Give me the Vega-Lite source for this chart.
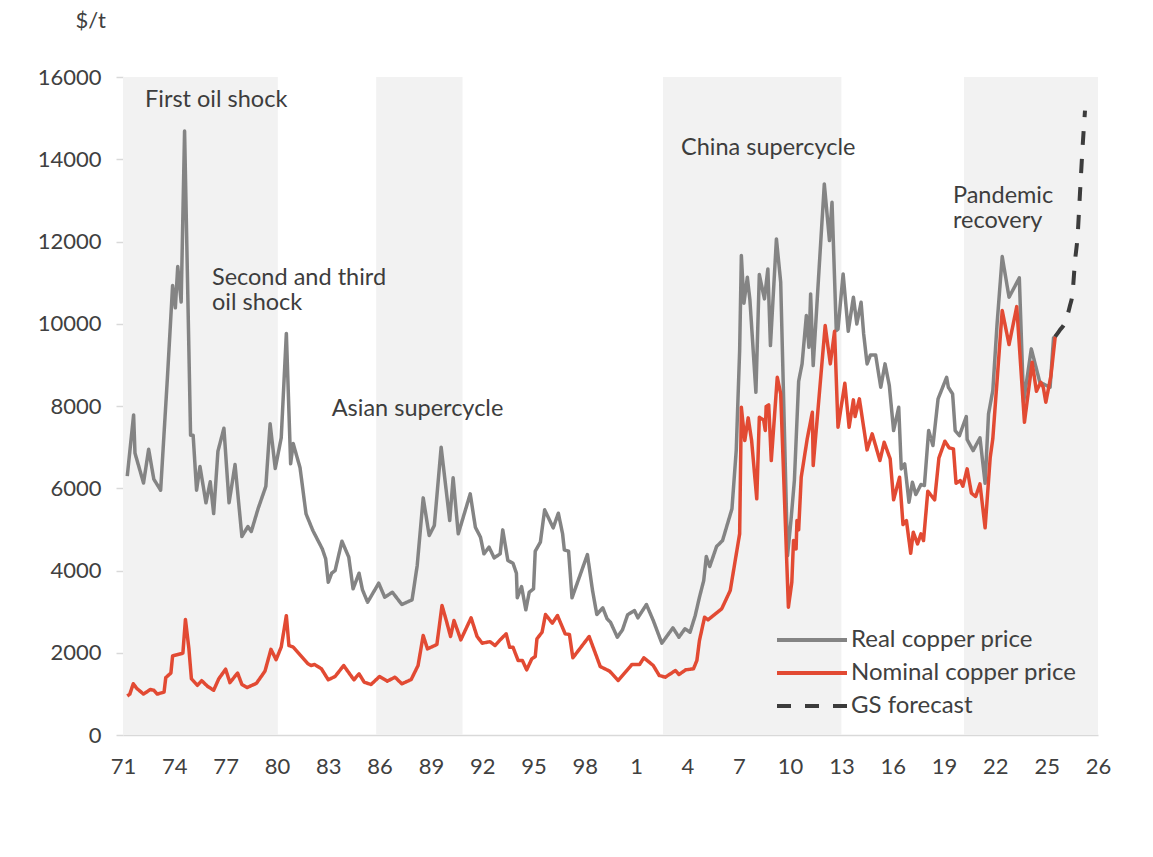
{
  "$schema": "https://vega.github.io/schema/vega-lite/v6.json",
  "width": 975,
  "height": 658,
  "autosize": {"type": "none"},
  "padding": {"left": 123, "top": 77, "right": 55, "bottom": 122},
  "background": "white",
  "config": {
    "view": {"stroke": null},
    "font": "Lato",
    "text": {"font": "Lato"}
  },
  "datasets": {
    "shade": [
      {"start": 1971, "end": 1980.05},
      {"start": 1985.8, "end": 1990.85},
      {"start": 2002.57, "end": 2013.0},
      {"start": 2020.17, "end": 2028}
    ],
    "notes": [
      {"t": 1972.29, "v": 15450, "label": "First oil shock"},
      {"t": 1976.2, "v": 11110, "label": "Second and third\noil shock"},
      {"t": 1983.2, "v": 7937, "label": "Asian supercycle"},
      {"t": 2003.62, "v": 14280, "label": "China supercycle"},
      {"t": 2019.52, "v": 13100, "label": "Pandemic\nrecovery"}
    ],
    "forecast": [
      {"t": 2025.5, "v": 9688, "s": "GS forecast"},
      {"t": 2025.75, "v": 9834, "s": "GS forecast"},
      {"t": 2026.07, "v": 10030, "s": "GS forecast"},
      {"t": 2026.36, "v": 10440, "s": "GS forecast"},
      {"t": 2026.5, "v": 10700, "s": "GS forecast"},
      {"t": 2026.66, "v": 11540, "s": "GS forecast"},
      {"t": 2026.8, "v": 12100, "s": "GS forecast"},
      {"t": 2026.95, "v": 13200, "s": "GS forecast"},
      {"t": 2027.1, "v": 14300, "s": "GS forecast"},
      {"t": 2027.24, "v": 15180, "s": "GS forecast"}
    ],
    "prices": [
      {"t": 1971.25, "v": 6296, "s": "Real copper price"},
      {"t": 1971.62, "v": 7784, "s": "Real copper price"},
      {"t": 1971.7, "v": 6854, "s": "Real copper price"},
      {"t": 1972.2, "v": 6129, "s": "Real copper price"},
      {"t": 1972.5, "v": 6947, "s": "Real copper price"},
      {"t": 1972.8, "v": 6222, "s": "Real copper price"},
      {"t": 1973.2, "v": 5952, "s": "Real copper price"},
      {"t": 1973.6, "v": 8714, "s": "Real copper price"},
      {"t": 1973.9, "v": 10928, "s": "Real copper price"},
      {"t": 1974.06, "v": 10388, "s": "Real copper price"},
      {"t": 1974.2, "v": 11392, "s": "Real copper price"},
      {"t": 1974.4, "v": 10528, "s": "Real copper price"},
      {"t": 1974.6, "v": 14685, "s": "Real copper price"},
      {"t": 1974.95, "v": 7291, "s": "Real copper price"},
      {"t": 1975.1, "v": 7291, "s": "Real copper price"},
      {"t": 1975.3, "v": 5952, "s": "Real copper price"},
      {"t": 1975.5, "v": 6529, "s": "Real copper price"},
      {"t": 1975.85, "v": 5645, "s": "Real copper price"},
      {"t": 1976.1, "v": 6157, "s": "Real copper price"},
      {"t": 1976.3, "v": 5385, "s": "Real copper price"},
      {"t": 1976.55, "v": 6901, "s": "Real copper price"},
      {"t": 1976.9, "v": 7459, "s": "Real copper price"},
      {"t": 1977.2, "v": 5645, "s": "Real copper price"},
      {"t": 1977.55, "v": 6575, "s": "Real copper price"},
      {"t": 1977.95, "v": 4827, "s": "Real copper price"},
      {"t": 1978.3, "v": 5069, "s": "Real copper price"},
      {"t": 1978.5, "v": 4948, "s": "Real copper price"},
      {"t": 1978.9, "v": 5506, "s": "Real copper price"},
      {"t": 1979.35, "v": 6045, "s": "Real copper price"},
      {"t": 1979.6, "v": 7570, "s": "Real copper price"},
      {"t": 1979.9, "v": 6482, "s": "Real copper price"},
      {"t": 1980.25, "v": 7226, "s": "Real copper price"},
      {"t": 1980.55, "v": 9765, "s": "Real copper price"},
      {"t": 1980.8, "v": 6594, "s": "Real copper price"},
      {"t": 1980.95, "v": 7087, "s": "Real copper price"},
      {"t": 1981.35, "v": 6500, "s": "Real copper price"},
      {"t": 1981.7, "v": 5377, "s": "Real copper price"},
      {"t": 1982.1, "v": 4971, "s": "Real copper price"},
      {"t": 1982.65, "v": 4526, "s": "Real copper price"},
      {"t": 1982.85, "v": 4283, "s": "Real copper price"},
      {"t": 1983.0, "v": 3715, "s": "Real copper price"},
      {"t": 1983.2, "v": 3934, "s": "Real copper price"},
      {"t": 1983.4, "v": 3999, "s": "Real copper price"},
      {"t": 1983.8, "v": 4712, "s": "Real copper price"},
      {"t": 1984.2, "v": 4323, "s": "Real copper price"},
      {"t": 1984.45, "v": 3554, "s": "Real copper price"},
      {"t": 1984.8, "v": 3934, "s": "Real copper price"},
      {"t": 1985.0, "v": 3530, "s": "Real copper price"},
      {"t": 1985.3, "v": 3229, "s": "Real copper price"},
      {"t": 1985.95, "v": 3691, "s": "Real copper price"},
      {"t": 1986.3, "v": 3350, "s": "Real copper price"},
      {"t": 1986.75, "v": 3472, "s": "Real copper price"},
      {"t": 1987.3, "v": 3173, "s": "Real copper price"},
      {"t": 1987.9, "v": 3287, "s": "Real copper price"},
      {"t": 1988.2, "v": 4121, "s": "Real copper price"},
      {"t": 1988.55, "v": 5766, "s": "Real copper price"},
      {"t": 1988.9, "v": 4850, "s": "Real copper price"},
      {"t": 1989.2, "v": 5093, "s": "Real copper price"},
      {"t": 1989.6, "v": 6997, "s": "Real copper price"},
      {"t": 1990.1, "v": 5215, "s": "Real copper price"},
      {"t": 1990.3, "v": 6253, "s": "Real copper price"},
      {"t": 1990.6, "v": 4891, "s": "Real copper price"},
      {"t": 1991.3, "v": 5864, "s": "Real copper price"},
      {"t": 1991.6, "v": 5052, "s": "Real copper price"},
      {"t": 1991.9, "v": 4809, "s": "Real copper price"},
      {"t": 1992.1, "v": 4405, "s": "Real copper price"},
      {"t": 1992.4, "v": 4567, "s": "Real copper price"},
      {"t": 1992.7, "v": 4307, "s": "Real copper price"},
      {"t": 1993.05, "v": 4405, "s": "Real copper price"},
      {"t": 1993.2, "v": 4988, "s": "Real copper price"},
      {"t": 1993.5, "v": 4242, "s": "Real copper price"},
      {"t": 1993.8, "v": 4177, "s": "Real copper price"},
      {"t": 1994.0, "v": 3934, "s": "Real copper price"},
      {"t": 1994.05, "v": 3336, "s": "Real copper price"},
      {"t": 1994.3, "v": 3610, "s": "Real copper price"},
      {"t": 1994.55, "v": 3044, "s": "Real copper price"},
      {"t": 1994.75, "v": 3472, "s": "Real copper price"},
      {"t": 1995.0, "v": 3554, "s": "Real copper price"},
      {"t": 1995.1, "v": 4469, "s": "Real copper price"},
      {"t": 1995.4, "v": 4688, "s": "Real copper price"},
      {"t": 1995.65, "v": 5475, "s": "Real copper price"},
      {"t": 1996.15, "v": 5037, "s": "Real copper price"},
      {"t": 1996.45, "v": 5393, "s": "Real copper price"},
      {"t": 1996.7, "v": 4891, "s": "Real copper price"},
      {"t": 1996.8, "v": 4502, "s": "Real copper price"},
      {"t": 1997.05, "v": 4469, "s": "Real copper price"},
      {"t": 1997.25, "v": 3336, "s": "Real copper price"},
      {"t": 1998.15, "v": 4388, "s": "Real copper price"},
      {"t": 1998.45, "v": 3513, "s": "Real copper price"},
      {"t": 1998.7, "v": 2930, "s": "Real copper price"},
      {"t": 1999.05, "v": 3092, "s": "Real copper price"},
      {"t": 1999.3, "v": 2825, "s": "Real copper price"},
      {"t": 1999.5, "v": 2742, "s": "Real copper price"},
      {"t": 1999.9, "v": 2378, "s": "Real copper price"},
      {"t": 2000.2, "v": 2557, "s": "Real copper price"},
      {"t": 2000.5, "v": 2922, "s": "Real copper price"},
      {"t": 2000.9, "v": 3027, "s": "Real copper price"},
      {"t": 2001.1, "v": 2849, "s": "Real copper price"},
      {"t": 2001.6, "v": 3173, "s": "Real copper price"},
      {"t": 2002.0, "v": 2784, "s": "Real copper price"},
      {"t": 2002.5, "v": 2232, "s": "Real copper price"},
      {"t": 2003.15, "v": 2606, "s": "Real copper price"},
      {"t": 2003.5, "v": 2378, "s": "Real copper price"},
      {"t": 2003.85, "v": 2582, "s": "Real copper price"},
      {"t": 2004.15, "v": 2500, "s": "Real copper price"},
      {"t": 2004.45, "v": 2900, "s": "Real copper price"},
      {"t": 2004.7, "v": 3350, "s": "Real copper price"},
      {"t": 2004.95, "v": 3756, "s": "Real copper price"},
      {"t": 2005.1, "v": 4339, "s": "Real copper price"},
      {"t": 2005.3, "v": 4096, "s": "Real copper price"},
      {"t": 2005.7, "v": 4582, "s": "Real copper price"},
      {"t": 2006.05, "v": 4728, "s": "Real copper price"},
      {"t": 2006.6, "v": 5499, "s": "Real copper price"},
      {"t": 2006.85, "v": 6916, "s": "Real copper price"},
      {"t": 2007.05, "v": 9347, "s": "Real copper price"},
      {"t": 2007.15, "v": 11657, "s": "Real copper price"},
      {"t": 2007.3, "v": 10498, "s": "Real copper price"},
      {"t": 2007.5, "v": 11130, "s": "Real copper price"},
      {"t": 2007.65, "v": 10580, "s": "Real copper price"},
      {"t": 2008.0, "v": 8334, "s": "Real copper price"},
      {"t": 2008.2, "v": 11195, "s": "Real copper price"},
      {"t": 2008.5, "v": 10604, "s": "Real copper price"},
      {"t": 2008.7, "v": 11333, "s": "Real copper price"},
      {"t": 2008.85, "v": 9469, "s": "Real copper price"},
      {"t": 2009.2, "v": 12063, "s": "Real copper price"},
      {"t": 2009.45, "v": 11008, "s": "Real copper price"},
      {"t": 2009.85, "v": 4364, "s": "Real copper price"},
      {"t": 2010.05, "v": 5215, "s": "Real copper price"},
      {"t": 2010.25, "v": 6187, "s": "Real copper price"},
      {"t": 2010.5, "v": 8601, "s": "Real copper price"},
      {"t": 2010.7, "v": 9024, "s": "Real copper price"},
      {"t": 2010.95, "v": 10198, "s": "Real copper price"},
      {"t": 2011.1, "v": 9428, "s": "Real copper price"},
      {"t": 2011.2, "v": 10726, "s": "Real copper price"},
      {"t": 2011.35, "v": 8983, "s": "Real copper price"},
      {"t": 2011.7, "v": 11373, "s": "Real copper price"},
      {"t": 2012.0, "v": 13400, "s": "Real copper price"},
      {"t": 2012.3, "v": 12022, "s": "Real copper price"},
      {"t": 2012.45, "v": 12953, "s": "Real copper price"},
      {"t": 2012.7, "v": 9834, "s": "Real copper price"},
      {"t": 2012.8, "v": 9870, "s": "Real copper price"},
      {"t": 2013.1, "v": 11212, "s": "Real copper price"},
      {"t": 2013.4, "v": 9817, "s": "Real copper price"},
      {"t": 2013.7, "v": 10644, "s": "Real copper price"},
      {"t": 2013.9, "v": 9996, "s": "Real copper price"},
      {"t": 2014.15, "v": 10522, "s": "Real copper price"},
      {"t": 2014.3, "v": 9753, "s": "Real copper price"},
      {"t": 2014.5, "v": 9024, "s": "Real copper price"},
      {"t": 2014.7, "v": 9243, "s": "Real copper price"},
      {"t": 2015.0, "v": 9243, "s": "Real copper price"},
      {"t": 2015.3, "v": 8455, "s": "Real copper price"},
      {"t": 2015.55, "v": 9024, "s": "Real copper price"},
      {"t": 2015.8, "v": 8497, "s": "Real copper price"},
      {"t": 2016.05, "v": 7403, "s": "Real copper price"},
      {"t": 2016.35, "v": 7969, "s": "Real copper price"},
      {"t": 2016.5, "v": 6471, "s": "Real copper price"},
      {"t": 2016.7, "v": 6593, "s": "Real copper price"},
      {"t": 2016.95, "v": 5660, "s": "Real copper price"},
      {"t": 2017.15, "v": 6146, "s": "Real copper price"},
      {"t": 2017.35, "v": 5847, "s": "Real copper price"},
      {"t": 2017.65, "v": 6090, "s": "Real copper price"},
      {"t": 2017.85, "v": 6065, "s": "Real copper price"},
      {"t": 2018.1, "v": 7403, "s": "Real copper price"},
      {"t": 2018.35, "v": 7038, "s": "Real copper price"},
      {"t": 2018.65, "v": 8173, "s": "Real copper price"},
      {"t": 2019.15, "v": 8698, "s": "Real copper price"},
      {"t": 2019.25, "v": 8456, "s": "Real copper price"},
      {"t": 2019.5, "v": 8294, "s": "Real copper price"},
      {"t": 2019.65, "v": 7403, "s": "Real copper price"},
      {"t": 2019.9, "v": 7281, "s": "Real copper price"},
      {"t": 2020.3, "v": 7743, "s": "Real copper price"},
      {"t": 2020.35, "v": 7184, "s": "Real copper price"},
      {"t": 2020.7, "v": 6916, "s": "Real copper price"},
      {"t": 2021.1, "v": 7225, "s": "Real copper price"},
      {"t": 2021.4, "v": 6122, "s": "Real copper price"},
      {"t": 2021.6, "v": 7808, "s": "Real copper price"},
      {"t": 2021.85, "v": 8375, "s": "Real copper price"},
      {"t": 2022.1, "v": 9996, "s": "Real copper price"},
      {"t": 2022.4, "v": 11633, "s": "Real copper price"},
      {"t": 2022.8, "v": 10644, "s": "Real copper price"},
      {"t": 2023.4, "v": 11115, "s": "Real copper price"},
      {"t": 2023.65, "v": 8091, "s": "Real copper price"},
      {"t": 2024.1, "v": 9389, "s": "Real copper price"},
      {"t": 2024.6, "v": 8577, "s": "Real copper price"},
      {"t": 2025.2, "v": 8456, "s": "Real copper price"},
      {"t": 2025.4, "v": 9655, "s": "Real copper price"},
      {"t": 2025.5, "v": 9688, "s": "Real copper price"},
      {"t": 1971.25, "v": 949, "s": "Nominal copper price"},
      {"t": 1971.4, "v": 995, "s": "Nominal copper price"},
      {"t": 1971.6, "v": 1246, "s": "Nominal copper price"},
      {"t": 1971.8, "v": 1135, "s": "Nominal copper price"},
      {"t": 1972.2, "v": 995, "s": "Nominal copper price"},
      {"t": 1972.6, "v": 1107, "s": "Nominal copper price"},
      {"t": 1972.8, "v": 1088, "s": "Nominal copper price"},
      {"t": 1973.0, "v": 995, "s": "Nominal copper price"},
      {"t": 1973.4, "v": 1042, "s": "Nominal copper price"},
      {"t": 1973.5, "v": 1395, "s": "Nominal copper price"},
      {"t": 1973.8, "v": 1507, "s": "Nominal copper price"},
      {"t": 1973.9, "v": 1925, "s": "Nominal copper price"},
      {"t": 1974.5, "v": 1990, "s": "Nominal copper price"},
      {"t": 1974.65, "v": 2809, "s": "Nominal copper price"},
      {"t": 1974.85, "v": 2111, "s": "Nominal copper price"},
      {"t": 1975.0, "v": 1367, "s": "Nominal copper price"},
      {"t": 1975.35, "v": 1209, "s": "Nominal copper price"},
      {"t": 1975.6, "v": 1321, "s": "Nominal copper price"},
      {"t": 1975.95, "v": 1181, "s": "Nominal copper price"},
      {"t": 1976.3, "v": 1088, "s": "Nominal copper price"},
      {"t": 1976.6, "v": 1367, "s": "Nominal copper price"},
      {"t": 1977.0, "v": 1600, "s": "Nominal copper price"},
      {"t": 1977.25, "v": 1274, "s": "Nominal copper price"},
      {"t": 1977.7, "v": 1507, "s": "Nominal copper price"},
      {"t": 1977.95, "v": 1228, "s": "Nominal copper price"},
      {"t": 1978.25, "v": 1153, "s": "Nominal copper price"},
      {"t": 1978.8, "v": 1256, "s": "Nominal copper price"},
      {"t": 1979.3, "v": 1553, "s": "Nominal copper price"},
      {"t": 1979.65, "v": 2083, "s": "Nominal copper price"},
      {"t": 1979.95, "v": 1832, "s": "Nominal copper price"},
      {"t": 1980.25, "v": 2139, "s": "Nominal copper price"},
      {"t": 1980.55, "v": 2902, "s": "Nominal copper price"},
      {"t": 1980.7, "v": 2176, "s": "Nominal copper price"},
      {"t": 1980.95, "v": 2139, "s": "Nominal copper price"},
      {"t": 1981.35, "v": 1950, "s": "Nominal copper price"},
      {"t": 1981.8, "v": 1739, "s": "Nominal copper price"},
      {"t": 1982.0, "v": 1690, "s": "Nominal copper price"},
      {"t": 1982.2, "v": 1715, "s": "Nominal copper price"},
      {"t": 1982.6, "v": 1609, "s": "Nominal copper price"},
      {"t": 1983.0, "v": 1342, "s": "Nominal copper price"},
      {"t": 1983.4, "v": 1423, "s": "Nominal copper price"},
      {"t": 1983.9, "v": 1690, "s": "Nominal copper price"},
      {"t": 1984.5, "v": 1342, "s": "Nominal copper price"},
      {"t": 1984.8, "v": 1488, "s": "Nominal copper price"},
      {"t": 1985.1, "v": 1284, "s": "Nominal copper price"},
      {"t": 1985.5, "v": 1228, "s": "Nominal copper price"},
      {"t": 1986.0, "v": 1423, "s": "Nominal copper price"},
      {"t": 1986.45, "v": 1309, "s": "Nominal copper price"},
      {"t": 1986.9, "v": 1406, "s": "Nominal copper price"},
      {"t": 1987.3, "v": 1245, "s": "Nominal copper price"},
      {"t": 1987.85, "v": 1350, "s": "Nominal copper price"},
      {"t": 1988.25, "v": 1690, "s": "Nominal copper price"},
      {"t": 1988.55, "v": 2419, "s": "Nominal copper price"},
      {"t": 1988.8, "v": 2095, "s": "Nominal copper price"},
      {"t": 1989.35, "v": 2200, "s": "Nominal copper price"},
      {"t": 1989.65, "v": 3148, "s": "Nominal copper price"},
      {"t": 1989.9, "v": 2784, "s": "Nominal copper price"},
      {"t": 1990.15, "v": 2395, "s": "Nominal copper price"},
      {"t": 1990.35, "v": 2784, "s": "Nominal copper price"},
      {"t": 1990.75, "v": 2314, "s": "Nominal copper price"},
      {"t": 1991.35, "v": 2849, "s": "Nominal copper price"},
      {"t": 1991.7, "v": 2395, "s": "Nominal copper price"},
      {"t": 1992.0, "v": 2232, "s": "Nominal copper price"},
      {"t": 1992.45, "v": 2270, "s": "Nominal copper price"},
      {"t": 1992.75, "v": 2176, "s": "Nominal copper price"},
      {"t": 1993.05, "v": 2314, "s": "Nominal copper price"},
      {"t": 1993.4, "v": 2460, "s": "Nominal copper price"},
      {"t": 1993.6, "v": 2135, "s": "Nominal copper price"},
      {"t": 1993.8, "v": 2135, "s": "Nominal copper price"},
      {"t": 1994.1, "v": 1811, "s": "Nominal copper price"},
      {"t": 1994.35, "v": 1811, "s": "Nominal copper price"},
      {"t": 1994.6, "v": 1585, "s": "Nominal copper price"},
      {"t": 1994.9, "v": 1852, "s": "Nominal copper price"},
      {"t": 1995.1, "v": 1908, "s": "Nominal copper price"},
      {"t": 1995.2, "v": 2339, "s": "Nominal copper price"},
      {"t": 1995.5, "v": 2500, "s": "Nominal copper price"},
      {"t": 1995.7, "v": 2930, "s": "Nominal copper price"},
      {"t": 1996.1, "v": 2719, "s": "Nominal copper price"},
      {"t": 1996.4, "v": 2905, "s": "Nominal copper price"},
      {"t": 1996.85, "v": 2460, "s": "Nominal copper price"},
      {"t": 1997.1, "v": 2443, "s": "Nominal copper price"},
      {"t": 1997.3, "v": 1877, "s": "Nominal copper price"},
      {"t": 1998.25, "v": 2395, "s": "Nominal copper price"},
      {"t": 1998.7, "v": 1892, "s": "Nominal copper price"},
      {"t": 1998.9, "v": 1665, "s": "Nominal copper price"},
      {"t": 1999.45, "v": 1552, "s": "Nominal copper price"},
      {"t": 1999.95, "v": 1325, "s": "Nominal copper price"},
      {"t": 2000.75, "v": 1714, "s": "Nominal copper price"},
      {"t": 2001.2, "v": 1714, "s": "Nominal copper price"},
      {"t": 2001.45, "v": 1877, "s": "Nominal copper price"},
      {"t": 2002.0, "v": 1690, "s": "Nominal copper price"},
      {"t": 2002.35, "v": 1447, "s": "Nominal copper price"},
      {"t": 2002.7, "v": 1406, "s": "Nominal copper price"},
      {"t": 2003.3, "v": 1568, "s": "Nominal copper price"},
      {"t": 2003.5, "v": 1471, "s": "Nominal copper price"},
      {"t": 2003.9, "v": 1585, "s": "Nominal copper price"},
      {"t": 2004.35, "v": 1609, "s": "Nominal copper price"},
      {"t": 2004.55, "v": 1811, "s": "Nominal copper price"},
      {"t": 2004.7, "v": 2297, "s": "Nominal copper price"},
      {"t": 2005.0, "v": 2865, "s": "Nominal copper price"},
      {"t": 2005.2, "v": 2800, "s": "Nominal copper price"},
      {"t": 2006.0, "v": 3068, "s": "Nominal copper price"},
      {"t": 2006.5, "v": 3513, "s": "Nominal copper price"},
      {"t": 2007.05, "v": 4891, "s": "Nominal copper price"},
      {"t": 2007.15, "v": 7969, "s": "Nominal copper price"},
      {"t": 2007.35, "v": 7160, "s": "Nominal copper price"},
      {"t": 2007.55, "v": 7711, "s": "Nominal copper price"},
      {"t": 2007.75, "v": 7160, "s": "Nominal copper price"},
      {"t": 2008.05, "v": 5742, "s": "Nominal copper price"},
      {"t": 2008.2, "v": 7726, "s": "Nominal copper price"},
      {"t": 2008.45, "v": 7662, "s": "Nominal copper price"},
      {"t": 2008.55, "v": 7403, "s": "Nominal copper price"},
      {"t": 2008.6, "v": 7986, "s": "Nominal copper price"},
      {"t": 2008.75, "v": 8026, "s": "Nominal copper price"},
      {"t": 2008.9, "v": 6673, "s": "Nominal copper price"},
      {"t": 2009.25, "v": 8698, "s": "Nominal copper price"},
      {"t": 2009.45, "v": 8294, "s": "Nominal copper price"},
      {"t": 2009.9, "v": 3107, "s": "Nominal copper price"},
      {"t": 2010.1, "v": 3715, "s": "Nominal copper price"},
      {"t": 2010.2, "v": 4728, "s": "Nominal copper price"},
      {"t": 2010.35, "v": 4525, "s": "Nominal copper price"},
      {"t": 2010.4, "v": 5215, "s": "Nominal copper price"},
      {"t": 2010.5, "v": 4988, "s": "Nominal copper price"},
      {"t": 2010.65, "v": 6268, "s": "Nominal copper price"},
      {"t": 2011.0, "v": 7201, "s": "Nominal copper price"},
      {"t": 2011.3, "v": 7848, "s": "Nominal copper price"},
      {"t": 2011.35, "v": 6552, "s": "Nominal copper price"},
      {"t": 2012.05, "v": 9955, "s": "Nominal copper price"},
      {"t": 2012.35, "v": 9024, "s": "Nominal copper price"},
      {"t": 2012.6, "v": 9817, "s": "Nominal copper price"},
      {"t": 2012.8, "v": 7483, "s": "Nominal copper price"},
      {"t": 2013.2, "v": 8552, "s": "Nominal copper price"},
      {"t": 2013.45, "v": 7483, "s": "Nominal copper price"},
      {"t": 2013.7, "v": 8149, "s": "Nominal copper price"},
      {"t": 2013.8, "v": 7743, "s": "Nominal copper price"},
      {"t": 2014.05, "v": 8173, "s": "Nominal copper price"},
      {"t": 2014.3, "v": 7483, "s": "Nominal copper price"},
      {"t": 2014.5, "v": 6933, "s": "Nominal copper price"},
      {"t": 2014.8, "v": 7322, "s": "Nominal copper price"},
      {"t": 2015.25, "v": 6673, "s": "Nominal copper price"},
      {"t": 2015.5, "v": 7118, "s": "Nominal copper price"},
      {"t": 2015.85, "v": 6714, "s": "Nominal copper price"},
      {"t": 2016.05, "v": 5718, "s": "Nominal copper price"},
      {"t": 2016.4, "v": 6268, "s": "Nominal copper price"},
      {"t": 2016.6, "v": 5118, "s": "Nominal copper price"},
      {"t": 2016.8, "v": 5215, "s": "Nominal copper price"},
      {"t": 2017.05, "v": 4420, "s": "Nominal copper price"},
      {"t": 2017.2, "v": 4931, "s": "Nominal copper price"},
      {"t": 2017.45, "v": 4647, "s": "Nominal copper price"},
      {"t": 2017.65, "v": 4891, "s": "Nominal copper price"},
      {"t": 2017.8, "v": 4728, "s": "Nominal copper price"},
      {"t": 2018.05, "v": 5928, "s": "Nominal copper price"},
      {"t": 2018.45, "v": 5718, "s": "Nominal copper price"},
      {"t": 2018.7, "v": 6738, "s": "Nominal copper price"},
      {"t": 2019.05, "v": 7144, "s": "Nominal copper price"},
      {"t": 2019.3, "v": 6982, "s": "Nominal copper price"},
      {"t": 2019.55, "v": 6958, "s": "Nominal copper price"},
      {"t": 2019.7, "v": 6122, "s": "Nominal copper price"},
      {"t": 2019.95, "v": 6187, "s": "Nominal copper price"},
      {"t": 2020.1, "v": 6049, "s": "Nominal copper price"},
      {"t": 2020.35, "v": 6471, "s": "Nominal copper price"},
      {"t": 2020.6, "v": 5879, "s": "Nominal copper price"},
      {"t": 2020.85, "v": 5799, "s": "Nominal copper price"},
      {"t": 2021.1, "v": 6106, "s": "Nominal copper price"},
      {"t": 2021.4, "v": 5037, "s": "Nominal copper price"},
      {"t": 2021.7, "v": 6754, "s": "Nominal copper price"},
      {"t": 2021.85, "v": 7201, "s": "Nominal copper price"},
      {"t": 2022.4, "v": 10320, "s": "Nominal copper price"},
      {"t": 2022.8, "v": 9493, "s": "Nominal copper price"},
      {"t": 2023.25, "v": 10417, "s": "Nominal copper price"},
      {"t": 2023.7, "v": 7604, "s": "Nominal copper price"},
      {"t": 2024.15, "v": 9063, "s": "Nominal copper price"},
      {"t": 2024.4, "v": 8358, "s": "Nominal copper price"},
      {"t": 2024.65, "v": 8577, "s": "Nominal copper price"},
      {"t": 2024.8, "v": 8456, "s": "Nominal copper price"},
      {"t": 2024.95, "v": 8091, "s": "Nominal copper price"},
      {"t": 2025.25, "v": 8740, "s": "Nominal copper price"},
      {"t": 2025.5, "v": 9688, "s": "Nominal copper price"}
    ]
  },
  "layer": [
    {
      "data": {"name": "shade"},
      "mark": {"type": "rect", "color": "#f2f2f2"},
      "encoding": {
        "x": {"field": "start", "type": "quantitative", "scale": {"domain": [1971, 2028], "nice": false, "zero": false},
          "axis": {
            "values": [1971, 1974, 1977, 1980, 1983, 1986, 1989, 1992, 1995, 1998, 2001, 2004, 2007, 2010, 2013, 2016, 2019, 2022, 2025, 2028],
            "labelExpr": "datum.value == 2028 ? '26' : '' + (datum.value % 100)",
            "title": null, "grid": false, "ticks": false, "tickSize": 0,
            "domainColor": "#d9d9d9", "domainWidth": 1.5,
            "labelFontSize": 22, "labelColor": "#404040", "labelPadding": 21, "labelFlush": false, "labelFont": "Lato"
          }
        },
        "x2": {"field": "end"},
        "y": {"datum": 0, "type": "quantitative", "scale": {"domain": [0, 16000], "nice": false},
          "axis": {
            "values": [0, 2000, 4000, 6000, 8000, 10000, 12000, 14000, 16000],
            "format": "d", "grid": false,
            "domain": true, "domainColor": "#e3e3e3", "domainWidth": 1,
            "tickColor": "#d9d9d9", "tickSize": 7, "tickWidth": 1.5,
            "labelFontSize": 22, "labelColor": "#404040", "labelPadding": 15, "labelFont": "Lato",
            "title": "$/t", "titleAngle": 0, "titleAlign": "left", "titleBaseline": "middle",
            "titleX": -48, "titleY": -57, "titleFontSize": 22, "titleFontWeight": "normal", "titleColor": "#404040", "titleFont": "Lato"
          }
        },
        "y2": {"datum": 16000}
      }
    },
    {
      "data": {"name": "prices"},
      "mark": {"type": "line", "strokeWidth": 3.5, "strokeJoin": "round"},
      "encoding": {
        "x": {"field": "t", "type": "quantitative"},
        "y": {"field": "v", "type": "quantitative"},
        "color": {"field": "s", "type": "nominal",
          "scale": {"domain": ["Real copper price", "Nominal copper price", "GS forecast"], "range": ["#848484", "#e24a33", "#3c3c3c"]},
          "legend": {"orient": "none", "legendX": 652, "legendY": 551, "title": null, "labelFontSize": 24, "labelColor": "#404040", "labelFont": "Lato", "labelLimit": 400,
            "symbolType": "M-1,0H6", "symbolSize": 400, "symbolStrokeWidth": 4, "labelOffset": 52, "rowPadding": 9}
        },
        "strokeDash": {"field": "s", "type": "nominal",
          "scale": {"domain": ["Real copper price", "Nominal copper price", "GS forecast"], "range": [[1, 0], [1, 0], [14, 14]]},
          "legend": {"orient": "none", "legendX": 652, "legendY": 551, "title": null, "labelFontSize": 24, "labelColor": "#404040", "labelFont": "Lato", "labelLimit": 400,
            "symbolType": "M-1,0H6", "symbolSize": 400, "symbolStrokeWidth": 4, "labelOffset": 52, "rowPadding": 9}
        },
        "order": {"field": "t", "type": "quantitative"}
      }
    },
    {
      "data": {"name": "forecast"},
      "mark": {"type": "line", "strokeWidth": 4, "interpolate": "monotone"},
      "encoding": {
        "x": {"field": "t", "type": "quantitative"},
        "y": {"field": "v", "type": "quantitative"},
        "color": {"field": "s", "type": "nominal"},
        "strokeDash": {"field": "s", "type": "nominal"}
      }
    },
    {
      "data": {"name": "notes"},
      "mark": {"type": "text", "align": "left", "baseline": "middle", "fontSize": 23.5, "color": "#3d3d3d", "font": "Lato", "lineBreak": "\n", "lineHeight": 25},
      "encoding": {
        "x": {"field": "t", "type": "quantitative"},
        "y": {"field": "v", "type": "quantitative"},
        "text": {"field": "label"}
      }
    }
  ]
}
